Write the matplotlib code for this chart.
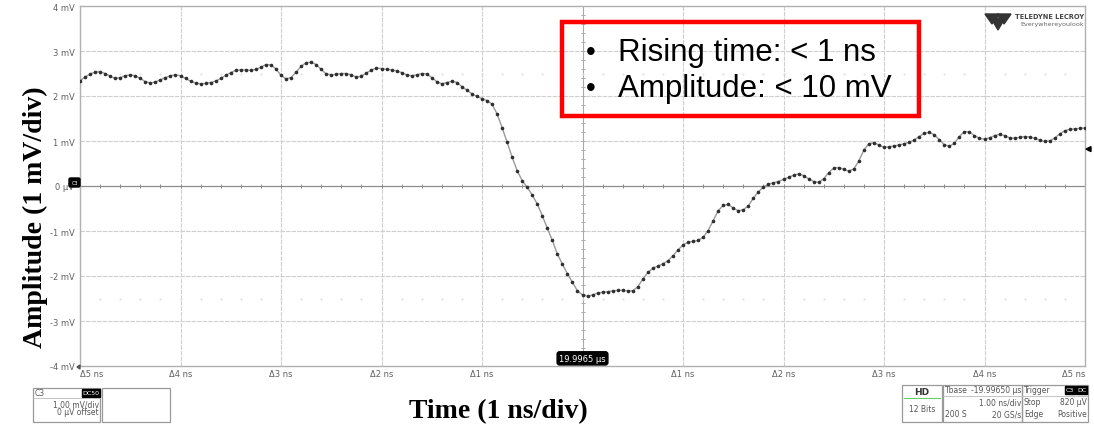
import numpy as np
import matplotlib
matplotlib.use("Agg")
from matplotlib import pyplot as plt
from matplotlib.patches import Rectangle, FancyBboxPatch, Polygon

# waveform, 20 GS/s -> one sample every 0.05 ns
t_start, t_step = -5.0, 0.05
amplitude_mv = [
    2.34, 2.42, 2.49, 2.53, 2.54, 2.50, 2.44, 2.39, 2.41, 2.45,
    2.47, 2.45, 2.39, 2.32, 2.29, 2.31, 2.36, 2.41, 2.45, 2.47,
    2.45, 2.39, 2.33, 2.29, 2.27, 2.28, 2.30, 2.33, 2.39, 2.46,
    2.52, 2.57, 2.58, 2.58, 2.57, 2.59, 2.64, 2.70, 2.69, 2.60,
    2.46, 2.38, 2.41, 2.53, 2.66, 2.74, 2.75, 2.70, 2.59, 2.49,
    2.47, 2.48, 2.50, 2.50, 2.47, 2.42, 2.44, 2.51, 2.58, 2.62,
    2.61, 2.59, 2.58, 2.56, 2.52, 2.47, 2.45, 2.47, 2.50, 2.49,
    2.41, 2.32, 2.27, 2.30, 2.33, 2.30, 2.21, 2.13, 2.05, 1.99,
    1.94, 1.90, 1.82, 1.60, 1.30, 0.97, 0.64, 0.34, 0.12, -0.03,
    -0.20, -0.40, -0.66, -0.94, -1.21, -1.51, -1.74, -1.95, -2.14, -2.33,
    -2.42, -2.45, -2.42, -2.38, -2.36, -2.35, -2.33, -2.32, -2.32, -2.33,
    -2.33, -2.24, -2.07, -1.92, -1.83, -1.78, -1.73, -1.66, -1.55, -1.42,
    -1.31, -1.25, -1.23, -1.21, -1.14, -0.99, -0.77, -0.55, -0.43, -0.41,
    -0.49, -0.55, -0.53, -0.44, -0.27, -0.13, -0.02, 0.04, 0.07, 0.10,
    0.15, 0.19, 0.24, 0.27, 0.23, 0.16, 0.10, 0.08, 0.16, 0.30,
    0.40, 0.41, 0.37, 0.33, 0.38, 0.56, 0.80, 0.94, 0.96, 0.91,
    0.86, 0.87, 0.89, 0.91, 0.94, 0.97, 1.02, 1.10, 1.17, 1.19,
    1.14, 1.03, 0.92, 0.88, 0.95, 1.10, 1.21, 1.20, 1.12, 1.06,
    1.04, 1.07, 1.12, 1.15, 1.12, 1.07, 1.06, 1.08, 1.10, 1.09,
    1.06, 1.02, 0.99, 1.00, 1.07, 1.16, 1.23, 1.26, 1.27, 1.28,
    1.29,
]
time_ns = t_start + t_step * np.arange(len(amplitude_mv))

y_ticks = [4, 3, 2, 1, 0, -1, -2, -3, -4]
y_labels = ["4 mV", "3 mV", "2 mV", "1 mV", "0 \u00b5V", "-1 mV", "-2 mV", "-3 mV", "-4 mV"]
x_ticks = [-5, -4, -3, -2, -1, 1, 2, 3, 4, 5]
x_labels = ["\u03945 ns", "\u03944 ns", "\u03943 ns", "\u03942 ns", "\u03941 ns",
            "\u03941 ns", "\u03942 ns", "\u03943 ns", "\u03944 ns", "\u03945 ns"]
trigger_level_mv = 0.82
notes = ["Rising time: < 1 ns", "Amplitude: < 10 mV"]

W, H = 1094, 427
fig = plt.figure(figsize=(W / 100, H / 100), dpi=100)
ax = fig.add_axes([80 / W, 60 / H, 1005 / W, 360 / H])
ax.set_xlim(-5, 5)
ax.set_ylim(-4, 4)

# scope graticule
grid_kw = dict(color="#cfcfcf", lw=0.8, zorder=1)
for gx in range(-4, 5):
    if gx != 0:
        ax.axvline(gx, ls=(0, (4, 1)), **grid_kw)
for gy in range(-3, 4):
    if gy != 0:
        ax.axhline(gy, ls=(0, (4, 1)), **grid_kw)
ax.axhline(0, color="#8c8c8c", lw=0.9, zorder=1)
ax.axvline(0, color="#aaaaaa", lw=0.8, zorder=1)
minor_t = np.arange(-4.8, 5.0, 0.2)
ax.plot(minor_t, np.zeros_like(minor_t), ls="none", marker="|", ms=3, mew=0.7, color="#8c8c8c", zorder=1)
minor_v = np.arange(-3.8, 4.0, 0.2)
ax.plot(np.zeros_like(minor_v), minor_v, ls="none", marker="_", ms=3, mew=0.7, color="#aaaaaa", zorder=1)
for lvl in (2.5, -2.5):
    ax.plot(minor_t, np.full_like(minor_t, lvl), ls="none", marker=".", ms=1.0, color="#dddddd", zorder=1)

# the trace
ax.plot(time_ns, amplitude_mv, color="#9a9a9a", lw=1.0, zorder=3)
ax.plot(time_ns, amplitude_mv, ls="none", marker="o", ms=1.6, color="#303030", zorder=4)

ax.set_yticks(y_ticks)
ax.set_yticklabels(y_labels, fontsize=6, color="#606060")
ax.set_xticks([])
ax.tick_params(axis="y", length=0, pad=4)
for sp in ax.spines.values():
    sp.set_color("#b0b0b0")
    sp.set_linewidth(1.0)

for xt, lab in zip(x_ticks, x_labels):
    ha = "left" if xt == -5 else ("right" if xt == 5 else "center")
    ax.text(xt, -4.07, lab, ha=ha, va="top", fontsize=6, color="#606060")

ax.text(0, -3.83, "19.9965 \u00b5s", ha="center", va="center", fontsize=6, color="white", zorder=6,
        bbox=dict(boxstyle="round,pad=0.25,rounding_size=0.3", fc="black", ec="black"))

# red annotation box with bullets
ax.add_patch(Rectangle((-0.2, 1.55), 3.55, 2.1, fill=False, ec="#ff0000", lw=3.2, zorder=5))
for i, note in enumerate(notes):
    yy = 2.97 - 0.8 * i
    ax.text(0.08, yy, "\u2022", fontsize=20, family="Liberation Sans", va="center", ha="center", zorder=6)
    ax.text(0.35, yy, note, fontsize=22.5, family="Liberation Sans", va="center", ha="left", zorder=6)

# overlay in pixel coordinates for the scope decorations
ov = fig.add_axes([0, 0, 1, 1], zorder=10)
ov.set_xlim(0, W)
ov.set_ylim(H, 0)
ov.axis("off")

ov.text(35, 217, "Amplitude (1 mV/div)", fontsize=20, fontweight="bold", family="Liberation Serif",
        ha="center", va="center", rotation=90)
ov.text(498, 412, "Time (1 ns/div)", fontsize=20, fontweight="bold", family="Liberation Serif",
        ha="center", va="center")

# trigger level and channel markers
ty = 187 - trigger_level_mv * 45
ov.add_patch(Polygon([[1086, ty], [1091, ty - 2.5], [1091, ty + 2.5]], closed=True, color="black"))
ov.add_patch(FancyBboxPatch((69, 179), 11, 9, boxstyle="round,pad=0,rounding_size=1.5", fc="black", ec="black"))
ov.text(74.5, 183.5, "C3", fontsize=3.5, color="white", ha="center", va="center")
ov.add_patch(Polygon([[77, 368], [80, 366], [80, 370]], closed=True, color="#555555"))

# logo
ov.add_patch(Polygon([[985, 15], [999, 15], [992, 25]], closed=True, color="#333333"))
ov.add_patch(Polygon([[997, 15], [1011, 15], [1004, 25]], closed=True, color="#333333"))
ov.add_patch(Polygon([[991, 19], [1005, 19], [998, 31]], closed=True, color="#333333"))
ov.text(1084, 17, "TELEDYNE LECROY", fontsize=4.8, fontweight="bold", color="#444444", va="center", ha="right")
ov.text(1084, 24.5, "Everywhereyoulook", fontsize=4.6, color="#666666", va="center", ha="right")

# bottom info boxes
box_kw = dict(fill=False, ec="#999999", lw=0.9)
small = dict(fontsize=5.5, color="#555555")
ov.add_patch(Rectangle((33, 389), 67, 34, **box_kw))
ov.add_patch(Rectangle((102, 389), 68, 34, **box_kw))
ov.plot([33, 100], [399, 399], color="#bbbbbb", lw=0.6)
ov.text(35, 393.5, "C3", va="center", **small)
ov.add_patch(Rectangle((82, 389.5), 17.5, 8, fc="black", ec="black"))
ov.text(90.5, 393.5, "DC50", fontsize=4.5, color="white", ha="center", va="center")
ov.text(99, 405, "1.00 mV/div", ha="right", va="center", **small)
ov.text(99, 413, "0 \u00b5V offset", ha="right", va="center", **small)

ov.add_patch(Rectangle((902, 386), 40, 37, **box_kw))
ov.text(922, 393, "HD", fontsize=6.5, fontweight="bold", color="#333333", ha="center", va="center")
ov.plot([904, 940], [399, 399], color="#66cc66", lw=0.8)
ov.text(922, 410, "12 Bits", ha="center", va="center", **small)

ov.add_patch(Rectangle((943, 386), 79, 37, **box_kw))
ov.plot([943, 1022], [397, 397], color="#bbbbbb", lw=0.6)
ov.text(945, 391, "Tbase", va="center", **small)
ov.text(1021, 391, "-19.99650 \u00b5s", ha="right", va="center", **small)
ov.text(1021, 403, "1.00 ns/div", ha="right", va="center", **small)
ov.text(945, 415, "200 S", va="center", **small)
ov.text(1021, 415, "20 GS/s", ha="right", va="center", **small)

ov.add_patch(Rectangle((1022, 386), 66, 37, **box_kw))
ov.plot([1022, 1088], [397, 397], color="#bbbbbb", lw=0.6)
ov.text(1024, 391, "Trigger", va="center", **small)
ov.add_patch(Rectangle((1065, 387), 10, 8, fc="black", ec="black"))
ov.add_patch(Rectangle((1076, 387), 11, 8, fc="black", ec="black"))
ov.text(1070, 391, "C3", fontsize=4.5, color="white", ha="center", va="center")
ov.text(1081.5, 391, "DC", fontsize=4.5, color="white", ha="center", va="center")
ov.text(1024, 403, "Stop", va="center", **small)
ov.text(1087, 403, "820 \u00b5V", ha="right", va="center", **small)
ov.text(1024, 415, "Edge", va="center", **small)
ov.text(1087, 415, "Positive", ha="right", va="center", **small)

fig.savefig("out.png", dpi=100)
